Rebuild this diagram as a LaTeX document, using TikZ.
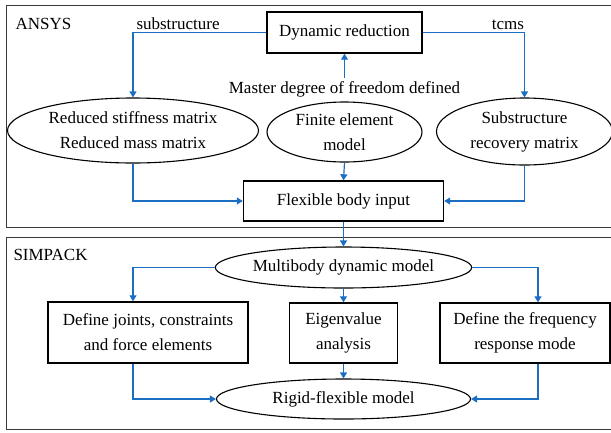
\documentclass[tikz,border=0pt]{standalone}
\usepackage{fontspec}
\setmainfont{Liberation Serif}
\usetikzlibrary{arrows.meta,shapes.geometric,positioning}
\definecolor{flow}{HTML}{1B6EC2}
\definecolor{frame}{HTML}{3A3A3A}

\begin{document}
\begin{tikzpicture}[x=1bp,y=-1bp,
    every node/.style={font=\fontsize{17bp}{25bp}\selectfont},
    stage/.style={draw,line width=1.4bp,rectangle,align=center,inner sep=0pt},
    oval/.style={draw,line width=1.1bp,ellipse,align=center,inner sep=0pt},
    link/.style={flow,line width=1.2bp,-{Triangle[length=6bp,width=7bp]}}]
  \useasboundingbox (0,0) rectangle (611,432);

  % ANSYS and SIMPACK frames
  \draw[frame,line width=0.9bp] (611,5) -- (6,5) -- (6,227) -- (611,227);
  \draw[frame,line width=0.9bp] (611,237) -- (6,237) -- (6,429) -- (611,429);
  \node[anchor=west] (ansys) at (12,24) {ANSYS};
  \node[anchor=west] (simpack) at (10,255) {SIMPACK};

  % columns of the side connectors
  \coordinate (lcol) at (133,0);
  \coordinate (rcol) at (538,0);

  % ANSYS part
  \node[stage,minimum width=155bp,minimum height=41bp] (dynred) at (344.5,32.5) {Dynamic reduction};
  \node[oval,minimum width=251bp,minimum height=65bp] (rsm) at (133,130.5) {Reduced stiffness matrix\\Reduced mass matrix};
  \node[oval,minimum width=155bp,minimum height=60bp] (fem) at (344.5,132) {Finite element\\model};
  \node[oval,minimum width=176bp,minimum height=67bp] (rec) at (524.5,131.5) {Substructure\\recovery matrix};
  \node[stage,minimum width=200bp,minimum height=40bp] (flex) at (343.5,201) {Flexible body input};

  \node[anchor=base west] (sublbl) at (133,29) {substructure};
  \node[anchor=base] (tcms) at (508,29) {tcms};
  \node[anchor=base] (master) at (344.5,93) {Master degree of freedom defined};

  % SIMPACK part
  \node[oval,minimum width=253bp,minimum height=41bp] (mbd) at (343.5,267.5) {Multibody dynamic model};
  \node[stage,minimum width=200bp,minimum height=61bp] (joints) at (148,332.5) {Define joints, constraints\\and force elements};
  \node[stage,minimum width=108bp,minimum height=60bp] (eig) at (343.5,333) {Eigenvalue\\analysis};
  \node[stage,minimum width=170bp,minimum height=60bp] (freq) at (525,333) {Define the frequency\\response mode};
  \node[oval,minimum width=254bp,minimum height=40bp] (rigid) at (343.5,399) {Rigid-flexible model};

  % connectors
  \draw[link] (dynred.west) -| (rsm.north);
  \draw[link] (dynred.east) -| (rec.north);
  \draw[link] (master.north) -- (dynred.south);
  \draw[link] (rsm.south) |- (flex.west);
  \draw[link] (fem.south) -- (flex.north);
  \draw[link] (rec.south) |- (flex.east);
  \draw[link] (flex.south) -- (mbd.north);
  \draw[link] (mbd.west) -| (lcol |- joints.north);
  \draw[link] (mbd.south) -- (eig.north);
  \draw[link] (mbd.east) -| (rcol |- freq.north);
  \draw[link] (lcol |- joints.south) |- (rigid.west);
  \draw[link] (eig.south) -- (rigid.north);
  \draw[link] (rcol |- freq.south) |- (rigid.east);
\end{tikzpicture}
\end{document}
